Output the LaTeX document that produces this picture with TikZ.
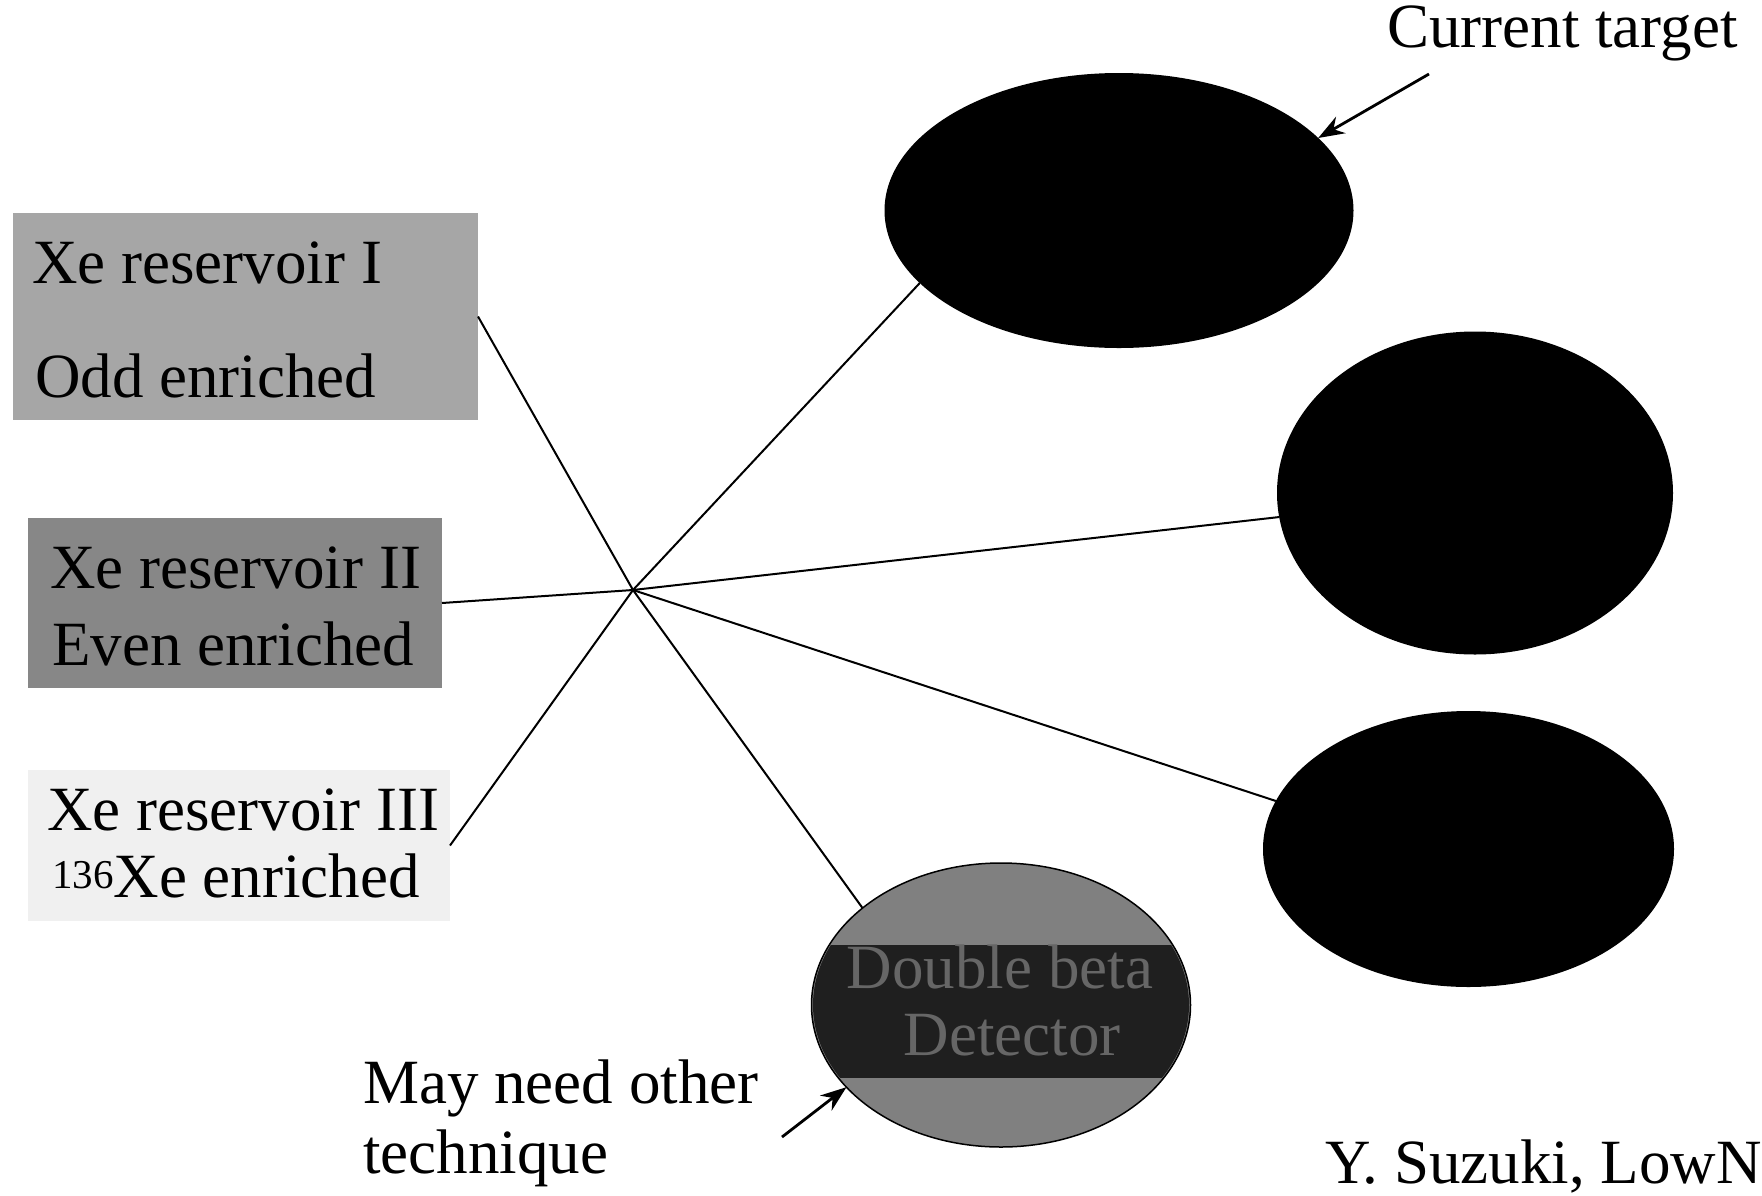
\documentclass[tikz,border=0pt]{standalone}
\usepackage{fontspec}
\setmainfont{Liberation Serif}
\usetikzlibrary{shapes.geometric,arrows.meta}
\begin{document}
\begin{tikzpicture}[x=1pt,y=-1pt,
  lbl/.style={anchor=base west,inner sep=0,font=\fontsize{63}{70}\selectfont},
  res/.style={rectangle,inner sep=0,outer sep=0,draw=none},
  blob/.style={ellipse,inner sep=0,outer sep=0,fill=black},
  link/.style={line width=2pt},
  pointer/.style={line width=2.8pt,-{Stealth[length=26pt,width=19pt]}}]
\useasboundingbox (0,0) rectangle (1762,1195);
\fill[white] (0,0) rectangle (1762,1195);
% reservoirs
\node[res,fill=black!35,minimum width=465,minimum height=207] (b1) at (245.5,316.5) {};
\node[res,fill=black!47,minimum width=414,minimum height=170] (b2) at (235,603) {};
\node[res,fill=black!6,minimum width=422,minimum height=151] (b3) at (239,845.5) {};
\node[lbl] (t1a) at (32,283) {Xe reservoir I};
\node[lbl] (t1b) at (35,397) {Odd enriched};
\node[lbl] (t2a) at (50,588) {Xe reservoir II};
\node[lbl] (t2b) at (52,665) {Even enriched};
\node[lbl] (t3a) at (47,830) {Xe reservoir III};
\node[lbl] (t3b) at (52,897) {{\fontsize{41}{41}\selectfont\raisebox{9pt}{136}}Xe enriched};
% targets
\node[blob,minimum width=469,minimum height=275] (e1) at (1119,210.5) {};
\node[blob,minimum width=396,minimum height=323] (e2) at (1475,493) {};
\node[blob,minimum width=411,minimum height=276] (e3) at (1468.5,849) {};
\node[ellipse,inner sep=0,outer sep=0,draw=black,line width=1.5pt,fill=black!50,
      minimum width=379,minimum height=284] (e4) at (1001,1005) {};
\begin{scope}
  \clip (1001,1005) ellipse [x radius=188, y radius=141];
  \fill[black!88] (800,945) rectangle (1200,1078);
\end{scope}
\node[font=\fontsize{63}{70}\selectfont,text=black!60,anchor=base,inner sep=0] (d1) at (1000,988) {Double beta};
\node[font=\fontsize{63}{70}\selectfont,text=black!60,anchor=base,inner sep=0] (d2) at (1012,1055) {Detector};
% hub and links
\coordinate (hub) at (633,590);
\draw[link] (b1.east) -- (hub);
\draw[link] (b2.east) -- (hub);
\draw[link] (b3.east) -- (hub);
\draw[link] (hub) -- (e1.200.5);
\draw[link] (hub) -- (e2.187);
\draw[link] (hub) -- (e3.166.5);
\draw[link] (hub) -- (e4.145.5);
% annotations
\node[lbl] (ct) at (1387,47) {Current target};
\coordinate (cttail) at (1429,74);
\draw[pointer] (cttail) -- (e1.20);
\node[lbl] (mn1) at (363,1103) {May need other};
\node[lbl] (mn2) at (363,1173) {technique};
\coordinate (mntail) at (782,1137);
\draw[pointer] (mntail) -- (e4.208);
\node[lbl] (cite) at (1325,1183) {Y. Suzuki, LowN};
\end{tikzpicture}
\end{document}
